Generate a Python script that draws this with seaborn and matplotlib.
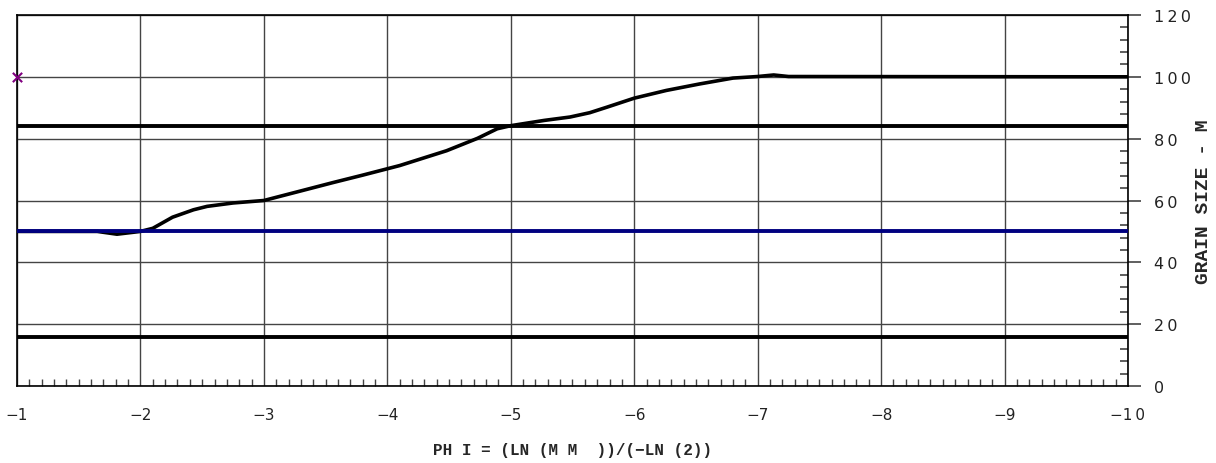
import matplotlib
matplotlib.use("Agg")
import matplotlib.pyplot as plt
import seaborn as sns
import numpy as np
import pandas as pd
from matplotlib.ticker import MultipleLocator, FixedLocator

# cumulative curve
phi = [-1.0, -1.65, -1.81, -2.0, -2.10, -2.26, -2.43, -2.54, -2.75, -3.0, -3.29, -3.56,
       -3.8, -4.10, -4.48, -4.73, -4.89, -5.0, -5.27, -5.48, -5.64, -5.78, -6.0, -6.26,
       -6.53, -6.80, -7.0, -7.13, -7.25, -10.0]
percent = [50, 50, 49.1, 50, 51.0, 54.6, 57.0, 58.1, 59.2, 60.0, 63.0, 65.8,
           68.2, 71.3, 76.1, 80.1, 83.2, 84.2, 85.9, 87.0, 88.4, 90.2, 93.1, 95.6,
           97.7, 99.6, 100.1, 100.6, 100.1, 100.0]

# reference levels (16 / 50 / 84 %)
black_levels = [16, 84]
blue_level = 50

# single marker point
marker_x = [-1.0]
marker_y = [100]

x_ticks = [-1, -2, -3, -4, -5, -6, -7, -8, -9, -10]
y_ticks = [0, 20, 40, 60, 80, 100, 120]

df = pd.DataFrame({"phi": phi, "percent": percent})

sns.set_style("white")
plt.rcParams["font.family"] = ["DejaVu Sans"]

fig = plt.figure(figsize=(12.16, 4.64), dpi=100)
ax = fig.add_axes([17 / 1216, 1 - 387 / 464, (1128 - 17) / 1216, (387 - 16) / 464])

ax.set_xlim(-1, -10)
ax.set_ylim(0, 120)

ax.grid(True, which="major", color="#444444", linewidth=1.0)
ax.set_axisbelow(True)

sns.lineplot(data=df, x="phi", y="percent", color="black", linewidth=2.6, ax=ax,
             sort=False, zorder=3)
for lvl in black_levels:
    ax.axhline(lvl, color="black", linewidth=2.8, zorder=4)
ax.axhline(blue_level, color="#000080", linewidth=2.8, zorder=5)

sns.scatterplot(x=marker_x, y=marker_y, marker="x", color="#800080", s=45,
                linewidth=1.5, ax=ax, clip_on=False, zorder=6)

for s in ax.spines.values():
    s.set_color("black")
    s.set_linewidth(1.2)
    s.set_visible(True)

ax.xaxis.set_major_locator(FixedLocator(x_ticks))
ax.xaxis.set_minor_locator(MultipleLocator(0.1))
ax.set_xticklabels([("\u2212" + "\u2009".join(str(abs(v)))) for v in x_ticks])

ax.yaxis.tick_right()
ax.yaxis.set_label_position("right")
ax.yaxis.set_major_locator(FixedLocator(y_ticks))
ax.yaxis.set_minor_locator(MultipleLocator(4))
ax.set_yticklabels(["\u2009".join(str(v)) for v in y_ticks])

ax.tick_params(axis="x", which="major", direction="out", length=6, width=1.2,
               color="#444444", labelsize=11, pad=9, labelcolor="#222222")
ax.tick_params(axis="x", which="minor", direction="in", length=5, width=1.0,
               color="#444444", bottom=True)
ax.tick_params(axis="y", which="major", direction="out", length=9, width=1.2,
               color="#444444", labelsize=11.5, pad=10, labelcolor="#222222",
               right=True, left=False)
ax.tick_params(axis="y", which="minor", direction="in", length=6, width=1.2,
               color="#444444", right=True, left=False)

ax.set_xlabel("PH I = (LN (M M  ))/(\u2212LN (2))", family=["Liberation Mono", "DejaVu Sans"],
              fontweight="bold", fontsize=11.5, va="center")
ax.xaxis.set_label_coords(0.5, -(451 - 387) / 371)
ax.set_ylabel("GRAIN SIZE - M", family=["Liberation Mono", "DejaVu Sans"],
              fontweight="bold", fontsize=14, rotation=90, va="center")
ax.yaxis.set_label_coords((1204 - 17) / 1111, 0.5)

fig.savefig("out.png", dpi=100)
